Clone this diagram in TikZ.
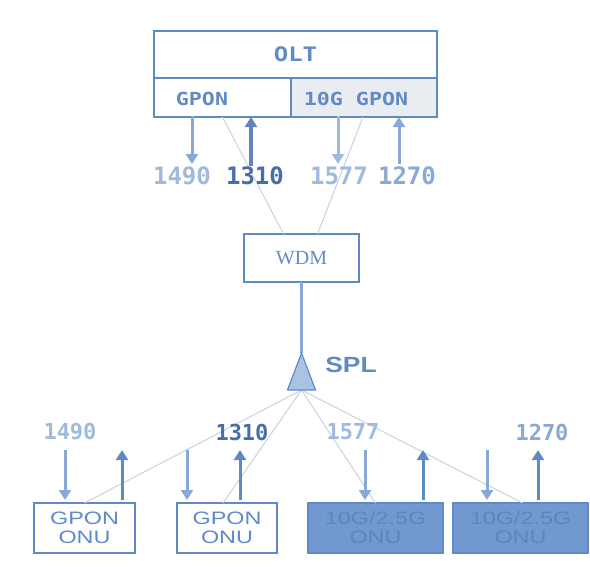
\documentclass[tikz,border=0pt]{standalone}
\usepackage{fontspec}
\setmainfont{Liberation Sans}
\newfontfamily\monofont[FakeStretch=1.2]{DejaVu Sans Mono}
\newfontfamily\numfont{DejaVu Sans Mono}
\newfontfamily\serffont{Liberation Serif}
\newfontfamily\onufont[FakeStretch=1.3]{Liberation Sans}
\newfontfamily\splfont[FakeStretch=1.2]{Liberation Sans}
\usepackage{tikz}
\usetikzlibrary{positioning,arrows.meta,calc}

\definecolor{boxline}{RGB}{96,138,198}
\definecolor{boxtext}{RGB}{98,138,198}
\definecolor{lightnum}{RGB}{160,186,222}
\definecolor{midnum}{RGB}{136,168,214}
\definecolor{darknum}{RGB}{72,110,170}
\definecolor{fiber}{RGB}{200,210,226}
\definecolor{onufill}{RGB}{114,152,208}
\definecolor{onutext}{RGB}{92,132,190}
\definecolor{cellfill}{RGB}{233,237,241}

\begin{document}
\begin{tikzpicture}[
  x=1pt,y=-1pt,
  tip/.style={-{Triangle[length=10pt,width=12pt]}},
  box/.style={draw=boxline,line width=1.2pt,inner sep=0pt,outer sep=0pt,
              text=boxtext,align=center},
  onu/.style={box,minimum height=50pt,text=boxline,
              font=\onufont\fontsize{18}{19}\selectfont},
  xgonu/.style={onu,fill=onufill,text=onutext},
  celltext/.style={text=boxtext,font=\monofont\bfseries\fontsize{18}{18}\selectfont},
  num/.style={font=\numfont\bfseries\fontsize{24}{24}\selectfont,inner sep=0pt},
  lownum/.style={num,font=\numfont\bfseries\fontsize{22}{22}\selectfont},
  fib/.style={draw=fiber,line width=1pt},
  down/.style={tip,draw=midnum,fill=midnum,line width=3pt},
  up/.style={tip,draw=boxline,fill=boxline,line width=3pt}
]
\useasboundingbox (0,0) rectangle (590,566);

\node[box,minimum width=283pt,minimum height=47pt,
      font=\monofont\bfseries\fontsize{20}{20}\selectfont] (olt) at (295.5,54.5) {OLT};
\node[box,minimum width=137pt,minimum height=39pt,anchor=north west] (gpon) at (olt.south west) {};
\node[box,fill=cellfill,minimum width=146pt,minimum height=39pt,anchor=north east] (xgpon) at (olt.south east) {};
\node[celltext] (gpontext) at (202,99) {GPON};
\node[celltext] (xgpontext) at (356,99) {10G GPON};

\node[box,minimum width=115pt,minimum height=48pt,
      font=\serffont\fontsize{20}{20}\selectfont] (wdm) at (301.5,258) {WDM};

\node[onu,minimum width=101pt] (onua) at (84.5,528) {GPON\\ONU};
\node[onu,minimum width=100pt] (onub) at (227,528) {GPON\\ONU};
\node[xgonu,minimum width=135pt] (onuc) at (375.5,528) {10G/2.5G\\ONU};
\node[xgonu,minimum width=135pt] (onud) at (520.5,528) {10G/2.5G\\ONU};

\coordinate (spltop) at (301.5,353);
\coordinate (splbot) at (301.5,390);
\node[font=\splfont\bfseries\fontsize{22}{22}\selectfont,text=boxline] (spl) at (351,365) {SPL};

\draw[fib] (gpon.south) -- ([xshift=-18pt]wdm.north);
\draw[fib] ([xshift=-1pt]xgpon.south) -- ([xshift=16pt]wdm.north);
\draw[draw=midnum,line width=3pt] (wdm.south) -- (spltop);
\draw[fib] (splbot) -- (onua.north);
\draw[fib] (splbot) -- ([xshift=-4pt]onub.north);
\draw[fib] (splbot) -- (onuc.north);
\draw[fib] (splbot) -- ([xshift=2pt]onud.north);
\draw[draw=boxline,fill=midnum!70,line width=1.2pt]
  (spltop) -- ++(14,37) -- ++(-28,0) -- cycle;

\node[num,text=lightnum] (dl1490) at (182,176) {1490};
\node[num,text=darknum] (ul1310) at (255,176) {1310};
\node[num,text=lightnum] (dl1577) at (339,176) {1577};
\node[num,text=midnum] (ul1270) at (407,176) {1270};

\coordinate (d1490) at (192,164);
\coordinate (u1310) at (251,166);
\coordinate (d1577) at (338,164);
\coordinate (u1270) at (399,164);
\draw[down] ([yshift=1pt]d1490 |- gpon.south) -- (d1490);
\draw[up,line width=3.6pt,draw=darknum!85,fill=darknum!85] (u1310) -- (u1310 |- gpon.south);
\draw[down,draw=lightnum,fill=lightnum] ([yshift=1pt]d1577 |- xgpon.south) -- (d1577);
\draw[up,draw=midnum,fill=midnum] (u1270) -- (u1270 |- xgpon.south);

\node[lownum,text=lightnum] (bl1490) at (70,432) {1490};
\node[lownum,text=darknum] (bl1310) at (242,432) {1310};
\node[lownum,text=lightnum] (bl1577) at (353,432) {1577};
\node[lownum,text=midnum] (bl1270) at (542,432) {1270};

\coordinate (da) at (65,450);
\coordinate (ua) at (122,450);
\coordinate (db) at (187,450);
\coordinate (ub) at (240,450);
\coordinate (dc) at (365,450);
\coordinate (uc) at (423,450);
\coordinate (dd) at (487,450);
\coordinate (ud) at (538,450);
\draw[down] (da) -- ([yshift=3pt]da |- onua.north);
\draw[up] ([yshift=3pt]ua |- onua.north) -- (ua);
\draw[down] (db) -- ([yshift=3pt]db |- onub.north);
\draw[up] ([yshift=3pt]ub |- onub.north) -- (ub);
\draw[down] (dc) -- ([yshift=3pt]dc |- onuc.north);
\draw[up] ([yshift=3pt]uc |- onuc.north) -- (uc);
\draw[down] (dd) -- ([yshift=3pt]dd |- onud.north);
\draw[up] ([yshift=3pt]ud |- onud.north) -- (ud);
\end{tikzpicture}
\end{document}
